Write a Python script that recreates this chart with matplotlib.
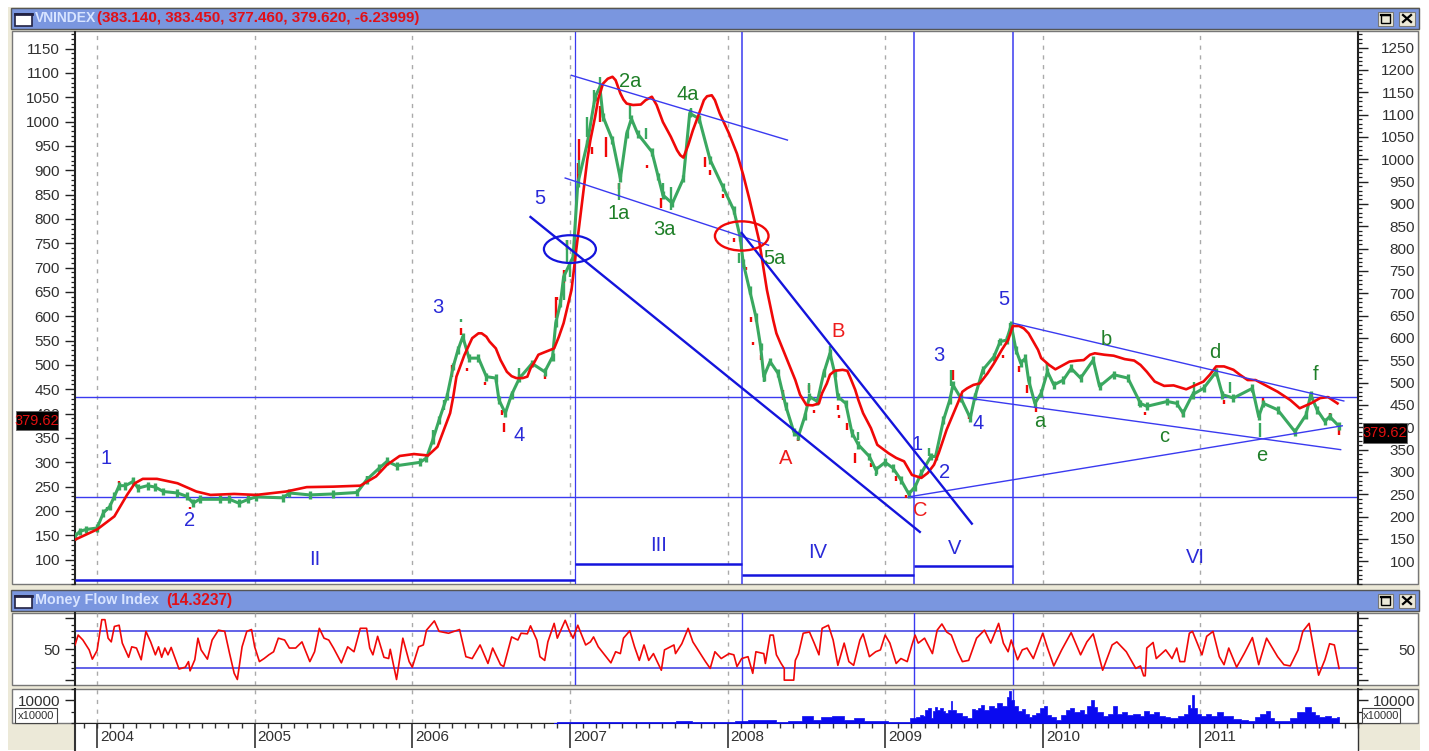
import matplotlib
matplotlib.use('Agg')
import matplotlib.pyplot as plt
from matplotlib.patches import Rectangle, Ellipse
from matplotlib.ticker import MultipleLocator, FixedLocator
from matplotlib.transforms import ScaledTranslation

plt.rcParams['font.family'] = ['Liberation Sans', 'DejaVu Sans']

# --- datos ---
years = [2004, 2005, 2006, 2007, 2008, 2009, 2010, 2011]

price_x = [2003.86, 2003.89, 2003.93, 2004.0, 2004.04, 2004.08, 2004.11, 2004.14, 2004.18, 2004.23, 2004.26, 2004.32,
           2004.37, 2004.42, 2004.51, 2004.57, 2004.61, 2004.65, 2004.78, 2004.84, 2004.9, 2004.96, 2005.01, 2005.18,
           2005.22, 2005.35, 2005.5, 2005.65, 2005.71, 2005.79, 2005.84, 2005.9, 2006.05, 2006.09, 2006.13, 2006.17,
           2006.22, 2006.26, 2006.29, 2006.32, 2006.36, 2006.42, 2006.47, 2006.53, 2006.55, 2006.59, 2006.63, 2006.68,
           2006.76, 2006.84, 2006.89, 2006.91, 2006.94, 2006.96, 2007.02, 2007.05, 2007.11, 2007.16, 2007.19, 2007.21,
           2007.27, 2007.32, 2007.36, 2007.39, 2007.43, 2007.52, 2007.56, 2007.59, 2007.65, 2007.72, 2007.76, 2007.82,
           2007.89, 2007.97, 2008.04, 2008.08, 2008.1, 2008.14, 2008.18, 2008.21, 2008.23, 2008.27, 2008.32, 2008.37,
           2008.42, 2008.45, 2008.49, 2008.52, 2008.57, 2008.61, 2008.65, 2008.68, 2008.7, 2008.75, 2008.79, 2008.83,
           2008.9, 2008.94, 2009.0, 2009.05, 2009.1, 2009.15, 2009.19, 2009.23, 2009.29, 2009.32, 2009.37, 2009.41,
           2009.43, 2009.48, 2009.54, 2009.57, 2009.62, 2009.69, 2009.73, 2009.77, 2009.8, 2009.83, 2009.86, 2009.89,
           2009.91, 2009.95, 2009.99, 2010.03, 2010.07, 2010.13, 2010.18, 2010.24, 2010.32, 2010.36, 2010.45, 2010.54,
           2010.62, 2010.66, 2010.79, 2010.85, 2010.89, 2010.95, 2011.02, 2011.1, 2011.14, 2011.21, 2011.33, 2011.37,
           2011.4, 2011.49, 2011.6, 2011.67, 2011.7, 2011.74, 2011.79, 2011.82, 2011.88]
price_y = [148, 158, 162, 165, 196, 209, 230, 252, 252, 261, 247, 252,
           249, 240, 237, 230, 216, 224, 224, 224, 216, 224, 229, 227,
           237, 233, 235, 238, 264, 288, 302, 293, 300, 309, 346, 387,
           435, 497, 531, 558, 514, 514, 476, 473, 428, 401, 439, 473,
           503, 486, 517, 586, 627, 681, 722, 873, 955, 1051, 1071, 1010,
           962, 883, 975, 1006, 975, 938, 887, 849, 832, 883, 1017, 1006,
           921, 866, 818, 763, 709, 654, 599, 538, 476, 507, 483, 415,
           363, 354, 394, 435, 425, 483, 524, 483, 435, 421, 360, 336,
           312, 285, 300, 288, 264, 235, 250, 278, 312, 312, 387, 428,
           459, 432, 391, 435, 490, 517, 548, 551, 582, 531, 504, 514,
           469, 421, 442, 486, 459, 469, 493, 473, 510, 456, 480, 473,
           421, 415, 425, 421, 401, 439, 452, 486, 439, 432, 452, 394,
           421, 408, 363, 397, 439, 408, 384, 394, 374]

ma_x = [2003.86, 2004.0, 2004.11, 2004.19, 2004.24, 2004.29, 2004.38, 2004.51, 2004.63, 2004.72, 2004.87, 2005.01,
        2005.2, 2005.33, 2005.5, 2005.67, 2005.77, 2005.84, 2005.92, 2006.01, 2006.1, 2006.16, 2006.24, 2006.26,
        2006.28, 2006.33, 2006.35, 2006.38, 2006.42, 2006.44, 2006.47, 2006.49, 2006.53, 2006.56, 2006.6, 2006.63,
        2006.66, 2006.7, 2006.73, 2006.75, 2006.77, 2006.8, 2006.83, 2006.9, 2006.93, 2006.96, 2007.01, 2007.04,
        2007.11, 2007.13, 2007.16, 2007.18, 2007.21, 2007.24, 2007.27, 2007.29, 2007.32, 2007.34, 2007.36, 2007.4,
        2007.45, 2007.48, 2007.52, 2007.55, 2007.59, 2007.64, 2007.68, 2007.7, 2007.72, 2007.75, 2007.78, 2007.82,
        2007.85, 2007.87, 2007.9, 2007.92, 2007.95, 2008.01, 2008.06, 2008.1, 2008.14, 2008.2, 2008.25, 2008.29,
        2008.31, 2008.37, 2008.4, 2008.43, 2008.46, 2008.5, 2008.54, 2008.58, 2008.6, 2008.63, 2008.65, 2008.68,
        2008.73, 2008.76, 2008.78, 2008.81, 2008.83, 2008.86, 2008.91, 2008.95, 2009.02, 2009.07, 2009.12, 2009.17,
        2009.21, 2009.23, 2009.27, 2009.31, 2009.34, 2009.39, 2009.46, 2009.49, 2009.52, 2009.56, 2009.6, 2009.65,
        2009.69, 2009.74, 2009.78, 2009.81, 2009.85, 2009.88, 2009.91, 2009.94, 2009.97, 2009.99, 2010.04, 2010.08,
        2010.13, 2010.17, 2010.22, 2010.26, 2010.3, 2010.33, 2010.39, 2010.45, 2010.52, 2010.58, 2010.62, 2010.66,
        2010.71, 2010.77, 2010.83, 2010.91, 2011.02, 2011.06, 2011.1, 2011.15, 2011.21, 2011.25, 2011.3, 2011.35,
        2011.42, 2011.49, 2011.57, 2011.63, 2011.7, 2011.76, 2011.81, 2011.87]
ma_y = [141, 162, 189, 233, 257, 266, 266, 257, 240, 233, 235, 233,
        240, 249, 250, 252, 271, 295, 313, 317, 314, 332, 401, 435,
        476, 520, 534, 555, 565, 565, 558, 548, 534, 510, 486, 477,
        473, 473, 476, 493, 503, 521, 525, 534, 558, 586, 654, 736,
        921, 962, 1010, 1047, 1078, 1088, 1092, 1085, 1058, 1045, 1037, 1034,
        1035, 1044, 1051, 1034, 999, 969, 941, 931, 926, 951, 982, 1017,
        1044, 1052, 1054, 1044, 1017, 975, 934, 890, 839, 756, 654, 592,
        565, 517, 493, 469, 439, 418, 417, 421, 442, 462, 480, 488,
        490, 488, 473, 449, 428, 401, 370, 336, 319, 309, 302, 274,
        270, 268, 278, 295, 319, 367, 421, 445, 452, 459, 462, 483,
        503, 531, 551, 580, 580, 575, 565, 548, 531, 514, 500, 491,
        500, 507, 509, 510, 521, 524, 521, 519, 512, 509, 500, 486,
        466, 457, 458, 450, 466, 480, 497, 497, 490, 480, 469, 469,
        457, 445, 428, 411, 421, 432, 434, 421]

# mechas de las velas: anio, minimo, maximo
red_x = [2006.92, 2006.96, 2006.98, 2007.05, 2007.06, 2007.14, 2007.19, 2007.23, 2007.31, 2007.49, 2007.58, 2007.86,
         2007.89, 2007.97, 2008.04, 2008.12, 2008.15, 2008.16, 2008.21, 2008.35, 2008.45, 2008.52, 2008.55, 2008.7,
         2008.71, 2008.76, 2008.81, 2008.91, 2009.07, 2009.13, 2009.43, 2009.53, 2009.75, 2009.85, 2009.9, 2009.96,
         2010.03, 2010.65, 2010.89, 2011.15, 2011.37, 2011.4, 2011.6, 2011.82, 2011.88, 2006.31, 2006.25, 2006.35,
         2006.46, 2006.57, 2006.58, 2006.84, 2006.91, 2004.59, 2004.14]
red_lo = [633, 668, 736, 873, 921, 934, 999, 928, 862, 904, 822, 907,
          890, 842, 753, 695, 589, 541, 510, 428, 343, 449, 401, 408,
          391, 367, 298, 291, 261, 226, 469, 389, 514, 486, 442, 404,
          490, 398, 394, 420, 391, 421, 356, 394, 356, 562, 476, 488,
          459, 397, 363, 471, 596, 205, 257]
red_hi = [640, 695, 756, 914, 965, 948, 1033, 969, 873, 910, 842, 927,
          900, 852, 760, 702, 599, 548, 521, 449, 350, 459, 408, 418,
          397, 380, 319, 298, 271, 233, 490, 397, 521, 497, 459, 414,
          504, 404, 401, 428, 401, 432, 363, 401, 370, 575, 500, 493,
          466, 408, 380, 480, 640, 208, 261]
green_x = [2006.98, 2007.0, 2007.06, 2007.11, 2007.15, 2007.19, 2007.31, 2007.38, 2007.48, 2007.59, 2007.64, 2007.77,
           2008.07, 2008.23, 2008.52, 2008.65, 2008.83, 2008.94, 2009.28, 2009.42, 2009.72, 2009.79, 2010.03, 2010.61,
           2010.96, 2011.19, 2011.38, 2011.7, 2006.13, 2006.2, 2006.31, 2006.68, 2006.96, 2004.06, 2004.23, 2005.71]
green_lo = [709, 681, 893, 969, 1037, 1071, 839, 1006, 965, 845, 818, 1010,
            709, 466, 442, 517, 346, 271, 312, 456, 538, 568, 486, 415,
            442, 442, 353, 428, 339, 408, 589, 476, 633, 199, 257, 261]
green_hi = [756, 709, 921, 1010, 1064, 1092, 873, 1034, 986, 873, 866, 1027,
            729, 483, 462, 538, 363, 278, 329, 490, 551, 586, 504, 435,
            466, 466, 380, 445, 367, 428, 594, 493, 668, 209, 268, 271]

mfi_x = [2003.86, 2003.88, 2003.91, 2003.95, 2003.97, 2004.0, 2004.02, 2004.03, 2004.05, 2004.07, 2004.09, 2004.11,
         2004.14, 2004.16, 2004.2, 2004.22, 2004.25, 2004.28, 2004.31, 2004.34, 2004.37, 2004.39, 2004.41, 2004.43,
         2004.45, 2004.47, 2004.52, 2004.56, 2004.58, 2004.59, 2004.62, 2004.64, 2004.66, 2004.7, 2004.73, 2004.77,
         2004.81, 2004.84, 2004.87, 2004.89, 2004.92, 2004.95, 2004.98, 2005.0, 2005.03, 2005.06, 2005.09, 2005.12,
         2005.15, 2005.19, 2005.22, 2005.26, 2005.3, 2005.32, 2005.35, 2005.38, 2005.41, 2005.44, 2005.47, 2005.5,
         2005.55, 2005.59, 2005.63, 2005.67, 2005.71, 2005.73, 2005.75, 2005.78, 2005.82, 2005.85, 2005.86, 2005.9,
         2005.94, 2005.98, 2006.0, 2006.04, 2006.07, 2006.09, 2006.14, 2006.17, 2006.23, 2006.3, 2006.34, 2006.38,
         2006.43, 2006.48, 2006.51, 2006.56, 2006.58, 2006.61, 2006.63, 2006.67, 2006.69, 2006.73, 2006.75, 2006.79,
         2006.81, 2006.84, 2006.86, 2006.9, 2006.92, 2006.97, 2007.0, 2007.02, 2007.05, 2007.07, 2007.1, 2007.13,
         2007.15, 2007.18, 2007.22, 2007.26, 2007.29, 2007.32, 2007.34, 2007.38, 2007.41, 2007.44, 2007.47, 2007.5,
         2007.53, 2007.55, 2007.58, 2007.6, 2007.66, 2007.67, 2007.71, 2007.75, 2007.78, 2007.82, 2007.86, 2007.89,
         2007.92, 2007.96, 2008.01, 2008.04, 2008.06, 2008.09, 2008.13, 2008.16, 2008.18, 2008.23, 2008.24, 2008.27,
         2008.29, 2008.31, 2008.34, 2008.36, 2008.36, 2008.42, 2008.43, 2008.45, 2008.48, 2008.52, 2008.55, 2008.58,
         2008.6, 2008.64, 2008.67, 2008.7, 2008.74, 2008.77, 2008.8, 2008.84, 2008.86, 2008.9, 2008.94, 2008.97,
         2009.0, 2009.03, 2009.07, 2009.1, 2009.14, 2009.17, 2009.19, 2009.21, 2009.25, 2009.3, 2009.33, 2009.36,
         2009.39, 2009.42, 2009.46, 2009.49, 2009.53, 2009.58, 2009.63, 2009.67, 2009.72, 2009.75, 2009.78, 2009.8,
         2009.84, 2009.87, 2009.9, 2009.94, 2010.0, 2010.03, 2010.07, 2010.12, 2010.18, 2010.24, 2010.28, 2010.32,
         2010.38, 2010.44, 2010.47, 2010.53, 2010.59, 2010.62, 2010.64, 2010.65, 2010.66, 2010.7, 2010.72, 2010.78,
         2010.82, 2010.85, 2010.87, 2010.9, 2010.93, 2010.95, 2011.01, 2011.04, 2011.08, 2011.12, 2011.15, 2011.18,
         2011.23, 2011.28, 2011.33, 2011.37, 2011.42, 2011.49, 2011.53, 2011.57, 2011.62, 2011.65, 2011.69, 2011.73,
         2011.75, 2011.79, 2011.82, 2011.85, 2011.88]
mfi_y = [57, 73, 65, 49, 34, 48, 81, 98, 98, 68, 62, 87,
         89, 60, 37, 54, 52, 33, 79, 62, 41, 54, 37, 52,
         41, 53, 18, 21, 30, 15, 33, 68, 49, 34, 65, 81,
         79, 44, 11, 1, 54, 79, 82, 54, 30, 35, 41, 46,
         68, 65, 52, 52, 62, 49, 30, 46, 84, 68, 65, 52,
         28, 54, 46, 84, 84, 52, 41, 71, 37, 35, 50, 1,
         68, 30, 21, 54, 57, 81, 96, 79, 76, 82, 38, 35,
         57, 27, 52, 25, 22, 51, 70, 65, 76, 75, 88, 65,
         38, 32, 62, 92, 68, 97, 78, 68, 89, 76, 57, 62,
         70, 54, 41, 28, 46, 43, 68, 80, 54, 32, 57, 32,
         43, 32, 16, 49, 57, 43, 59, 84, 62, 46, 30, 19,
         46, 35, 43, 41, 22, 35, 38, 11, 46, 43, 27, 73,
         73, 41, 27, 19, 0, 0, 32, 43, 76, 78, 60, 41,
         84, 89, 65, 24, 60, 30, 24, 65, 75, 38, 46, 49,
         73, 60, 27, 35, 30, 57, 73, 60, 68, 43, 81, 91,
         78, 73, 46, 30, 32, 68, 81, 60, 92, 60, 46, 65,
         33, 49, 52, 35, 76, 52, 23, 49, 77, 41, 62, 75,
         16, 57, 62, 46, 19, 23, 7, 7, 52, 61, 35, 49,
         35, 52, 30, 30, 76, 79, 41, 71, 79, 38, 25, 52,
         21, 44, 69, 25, 68, 38, 25, 23, 49, 79, 92, 35,
         8, 33, 59, 57, 19]

vol_x = [2006.9, 2006.94, 2007.0, 2007.2, 2007.4, 2007.6, 2007.75, 2007.8, 2008.0, 2008.1, 2008.16, 2008.23,
         2008.27, 2008.35, 2008.42, 2008.52, 2008.57, 2008.62, 2008.7, 2008.78, 2008.83, 2008.9, 2008.99, 2009.04,
         2009.13, 2009.18, 2009.21, 2009.23, 2009.25, 2009.26, 2009.28, 2009.3, 2009.31, 2009.32, 2009.34, 2009.36,
         2009.37, 2009.39, 2009.41, 2009.42, 2009.43, 2009.47, 2009.5, 2009.54, 2009.56, 2009.58, 2009.6, 2009.62,
         2009.64, 2009.68, 2009.7, 2009.72, 2009.76, 2009.78, 2009.79, 2009.81, 2009.83, 2009.86, 2009.88, 2009.9,
         2009.92, 2009.94, 2009.97, 2009.99, 2010.02, 2010.04, 2010.07, 2010.1, 2010.13, 2010.16, 2010.18, 2010.22,
         2010.25, 2010.27, 2010.29, 2010.32, 2010.33, 2010.36, 2010.4, 2010.43, 2010.46, 2010.48, 2010.52, 2010.55,
         2010.6, 2010.63, 2010.66, 2010.69, 2010.72, 2010.76, 2010.79, 2010.83, 2010.88, 2010.91, 2010.93, 2010.94,
         2010.95, 2010.97, 2010.99, 2011.02, 2011.05, 2011.08, 2011.13, 2011.16, 2011.19, 2011.23, 2011.28, 2011.33,
         2011.36, 2011.4, 2011.43, 2011.45, 2011.49, 2011.55, 2011.59, 2011.64, 2011.69, 2011.71, 2011.74, 2011.77,
         2011.81, 2011.85, 2011.88]
vol_y = [100, 600, 500, 500, 400, 500, 1000, 500, 500, 1000, 1500, 1200,
         1500, 300, 700, 3200, 1200, 2600, 3200, 1200, 2200, 700, 700, 300,
         300, 2200, 2600, 3700, 2900, 5900, 6600, 2200, 5100, 7100, 5900, 6600,
         5100, 4400, 5900, 9600, 5900, 4400, 3200, 2200, 6200, 5900, 6600, 8100,
         5900, 7300, 6600, 8800, 7600, 11500, 14000, 10000, 7600, 5100, 6200, 4100,
         2600, 3700, 4400, 6600, 7600, 3700, 2600, 1500, 3700, 5600, 6600, 4700,
         5600, 4100, 7300, 10000, 7100, 4700, 3200, 4100, 7600, 4100, 4700, 3700,
         4100, 3200, 5100, 4100, 4700, 2900, 2600, 2200, 2900, 4100, 8100, 6600,
         12500, 6600, 4100, 3200, 4100, 2900, 4700, 2900, 3200, 1800, 1500, 700,
         2600, 4100, 5100, 2200, 900, 900, 2200, 4700, 7100, 4700, 3700, 2600,
         3200, 2000, 2600]

# lineas dibujadas a mano sobre el grafico: (x1, x2, y1, y2)
thin_lines = [(2007.01, 2008.38, 1095, 962), (2006.97, 2008.26, 884, 746), (2009.81, 2011.91, 586, 426),
              (2009.48, 2011.89, 434, 326), (2009.15, 2011.90, 229, 375)]
thick_lines = [(2006.75, 2009.22, 804, 157), (2008.09, 2009.55, 771, 174)]
phase_lines = [(2003.86, 2007.03, 59), (2007.03, 2008.09, 92), (2008.09, 2009.18, 68), (2009.18, 2009.81, 86)]
wave_dates = [2007.03, 2008.09, 2009.18, 2009.81]
h_levels = [434, 229]

blue_labels = [('1', 2004.06, 307), ('2', 2004.59, 180), ('3', 2006.16, 619), ('4', 2006.68, 356), ('5', 2006.81, 841),
               ('1', 2009.20, 336), ('2', 2009.38, 279), ('3', 2009.34, 519), ('4', 2009.59, 379), ('5', 2009.75, 634),
               ('II', 2005.38, 100), ('III', 2007.56, 129), ('IV', 2008.57, 114), ('V', 2009.44, 123), ('VI', 2010.97, 104)]
green_labels = [('2a', 2007.38, 1083), ('4a', 2007.75, 1056), ('1a', 2007.31, 812), ('3a', 2007.60, 779),
                ('5a', 2008.30, 718), ('a', 2009.98, 383), ('b', 2010.40, 553), ('c', 2010.77, 354),
                ('d', 2011.09, 525), ('e', 2011.39, 315), ('f', 2011.73, 480)]
red_labels = [('A', 2008.37, 307), ('B', 2008.70, 568), ('C', 2009.22, 201)]

BLUE = '#3a3af0'
DARK_BLUE = '#1414dc'
GREEN = '#3aa860'
RED = '#f00808'
GREY = '#aaaaaa'
TXT = '#303030'
BEIGE = '#ece9d8'
BAR = '#7a96df'
W, H = 1429, 751


def panel(top, bottom):
    return [75 / W, 1 - bottom / H, (1358 - 75) / W, (bottom - top) / H]


def style_axis(ax, side, major, minor, pad_px):
    for s in ax.spines.values():
        s.set_visible(False)
    ax.spines[side].set_visible(True)
    ax.spines[side].set_linewidth(1.5)
    ax.spines[side].set_color('#222222')
    ax.yaxis.set_major_locator(major)
    ax.yaxis.set_minor_locator(MultipleLocator(minor))
    ax.tick_params(axis='y', which='major', length=7.2, width=1, color='#222222',
                   labelsize=11, labelcolor=TXT, pad=pad_px * 0.72)
    ax.tick_params(axis='y', which='minor', length=2.6, width=0.9, color='#222222')
    ax.tick_params(axis='x', which='both', bottom=False, labelbottom=False)
    if side == 'right':
        for t in ax.get_yticklabels():
            t.set_ha('right')


fig = plt.figure(figsize=(W / 100, H / 100), dpi=100, facecolor='white')

# marco de la ventana, en pixeles
chrome = fig.add_axes([0, 0, 1, 1], zorder=0)
chrome.set_xlim(0, W)
chrome.set_ylim(H, 0)
chrome.axis('off')
chrome.add_patch(Rectangle((8, 7), 1412, 743, fc=BEIGE, ec='none'))
chrome.add_patch(Rectangle((11, 8), 1408, 21, fc=BAR, ec='#555555', lw=1))
chrome.add_patch(Rectangle((11, 590), 1408, 21, fc=BAR, ec='#555555', lw=1))
chrome.add_patch(Rectangle((12, 31), 1406, 553, fc='white', ec='#777777', lw=1))
chrome.add_patch(Rectangle((12, 613), 1406, 72, fc='white', ec='#777777', lw=1))
chrome.add_patch(Rectangle((12, 689), 1406, 34, fc='white', ec='#777777', lw=1))
chrome.add_patch(Rectangle((75, 723), 1283, 27, fc='white', ec='none'))
for ty in (19, 601):
    chrome.add_patch(Rectangle((15, ty - 5), 17, 12, fc='white', ec='#222244', lw=1.2))
    chrome.plot([15, 32], [ty - 5, ty - 5], color='#222244', lw=2)
    chrome.add_patch(Rectangle((1378, ty - 7), 15, 14, fc=BEIGE, ec='#777777', lw=0.8))
    chrome.add_patch(Rectangle((1381, ty - 4), 9, 8, fc='none', ec='black', lw=1))
    chrome.plot([1381, 1390], [ty - 4, ty - 4], color='black', lw=1.6)
    chrome.add_patch(Rectangle((1399, ty - 7), 16, 14, fc=BEIGE, ec='#777777', lw=0.8))
    chrome.plot([1403, 1411], [ty - 4, ty + 3], color='black', lw=1.6)
    chrome.plot([1411, 1403], [ty - 4, ty + 3], color='black', lw=1.6)
chrome.text(35, 18, 'VNINDEX', color='#d8e4ff', fontsize=10, fontweight='bold', va='center')
chrome.text(97, 18, '(383.140, 383.450, 377.460, 379.620, -6.23999)', color='#e01018', fontsize=10.9,
            fontweight='bold', va='center')
chrome.text(35, 600, 'Money Flow Index', color='#d8e4ff', fontsize=10.4, fontweight='bold', va='center')
chrome.text(166, 600, '(14.3237)', color='#e01018', fontsize=11.2, fontweight='bold', va='center')

# panel principal
ax = fig.add_axes(panel(32, 584), zorder=1)
ax.patch.set_alpha(0)
ax.set_xlim(2003.86, 2012.0)
ax.set_ylim(50, 1184)
style_axis(ax, 'left', MultipleLocator(50), 10, 5)
ax.set_yticks([v for v in range(100, 1151, 50)])
for y in years:
    ax.axvline(y, color=GREY, lw=1, ls=(0, (3, 4)), zorder=1)
ax.axvline(wave_dates[0], color=BLUE, lw=0.9, zorder=2)
for d in wave_dates[1:]:
    ax.axvline(d, color=BLUE, lw=1.1, zorder=2)
for lev in h_levels:
    ax.axhline(lev, color=BLUE, lw=1, zorder=2)
ax.vlines(red_x, red_lo, red_hi, color=RED, lw=1.7, zorder=3)
ax.vlines(green_x, green_lo, green_hi, color=GREEN, lw=1.7, zorder=3)
# cuerpo de cada vela alrededor del cierre
ax.vlines(price_x, [p - 8 for p in price_y], [p + 8 for p in price_y], color=GREEN, lw=2.4, zorder=4)
ax.plot(price_x, price_y, color=GREEN, lw=2.2, zorder=4)
ax.plot(ma_x, ma_y, color=RED, lw=1.9, zorder=5)
for x1, x2, y1, y2 in thin_lines:
    ax.plot([x1, x2], [y1, y2], color=BLUE, lw=1, zorder=6)
for x1, x2, y1, y2 in thick_lines:
    ax.plot([x1, x2], [y1, y2], color=DARK_BLUE, lw=1.7, zorder=6)
for x1, x2, y in phase_lines:
    ax.plot([x1, x2], [y, y], color=DARK_BLUE, lw=1.8, zorder=6, solid_capstyle='butt')
ax.add_patch(Ellipse((2007.0, 738), 0.33, 57, fc='none', ec=DARK_BLUE, lw=1.6, zorder=7))
ax.add_patch(Ellipse((2008.09, 765), 0.34, 60, fc='none', ec=RED, lw=1.7, zorder=7))
for labels, col in ((blue_labels, '#2a2ad8'), (green_labels, '#1f7f28'), (red_labels, '#ee1c1c')):
    for txt, x, y in labels:
        ax.text(x, y, txt, color=col, fontsize=14.5, ha='center', va='center', zorder=8)

axr = ax.twinx()
axr.set_ylim(49, 1285)
style_axis(axr, 'right', MultipleLocator(50), 10, 47)
axr.set_yticks([v for v in range(100, 1251, 50)])
for t in axr.get_yticklabels():
    t.set_ha('right')

# cajas con el ultimo precio
for x0, x1 in ((16, 58), (1363, 1407)):
    y0, y1 = (411, 430) if x0 == 16 else (423, 443)
    box = Rectangle((x0 / W, 1 - y1 / H), (x1 - x0) / W, (y1 - y0) / H, transform=fig.transFigure,
                    fc='black', ec='#666666', lw=0.6, zorder=20)
    fig.add_artist(box)
    fig.text((x0 + x1) / 2 / W, 1 - (y0 + y1) / 2 / H, '379.62', color='#e01010', fontsize=10.5,
             ha='center', va='center', zorder=21)

# panel MFI
ax2 = fig.add_axes(panel(613, 685), zorder=1)
ax2.patch.set_alpha(0)
ax2.set_xlim(2003.86, 2012.0)
ax2.set_ylim(-7.9, 108.8)
style_axis(ax2, 'left', FixedLocator([0, 50, 100]), 10, 5)
ax2.set_yticklabels(['', '50', ''])
for y in years:
    ax2.axvline(y, color=GREY, lw=1, ls=(0, (3, 4)), zorder=1)
for d in wave_dates:
    ax2.axvline(d, color=BLUE, lw=1, zorder=2)
ax2.axhline(80, color=DARK_BLUE, lw=1.1, zorder=2, alpha=0.85)
ax2.axhline(20, color=DARK_BLUE, lw=1.1, zorder=2, alpha=0.85)
ax2.plot(mfi_x, mfi_y, color=RED, lw=1.2, zorder=3)
ax2r = ax2.twinx()
ax2r.set_ylim(-7.9, 108.8)
style_axis(ax2r, 'right', FixedLocator([0, 50, 100]), 10, 47)
ax2r.set_yticklabels(['', '50', ''], ha='right')

# panel de volumen
ax3 = fig.add_axes(panel(689, 723), zorder=1)
ax3.patch.set_alpha(0)
ax3.set_xlim(2003.86, 2012.0)
ax3.set_ylim(0, 15000)
style_axis(ax3, 'left', FixedLocator([10000]), 5000, 5)
for y in years:
    ax3.axvline(y, color=GREY, lw=1, ls=(0, (3, 4)), zorder=1)
for d in wave_dates[1:]:
    ax3.axvline(d, color=BLUE, lw=1, zorder=2)
ax3.fill_between(vol_x, vol_y, 0, color='#0a0af0', lw=0.5, step='mid', zorder=3)
ax3.spines['bottom'].set_visible(True)
ax3.spines['bottom'].set_color('#222222')
ax3.set_xticks(years)
ax3.set_xticks([2003.9167, 2003.9999] + [y + m / 12 for y in range(2004, 2012) for m in range(1, 13)], minor=True)
ax3.tick_params(axis='x', which='major', bottom=True, labelbottom=True, length=18, width=1.2, color='#333333',
                labelsize=11, labelcolor=TXT, pad=-13)
ax3.tick_params(axis='x', which='minor', bottom=True, length=3.6, width=1, color='#333333')
ax3.set_xticklabels([str(y) for y in years], ha='left')
for t in ax3.get_xticklabels():
    t.set_transform(t.get_transform() + ScaledTranslation(3 / 100, 0, fig.dpi_scale_trans))
ax3r = ax3.twinx()
ax3r.set_ylim(0, 15000)
style_axis(ax3r, 'right', FixedLocator([10000]), 5000, 47)
for t in ax3r.get_yticklabels():
    t.set_ha('right')
chrome.plot([75, 75], [723, 750], color='#333333', lw=1.5)
chrome.plot([1358, 1358], [723, 750], color='#333333', lw=1)

# cajitas x10000
for x0, x1 in ((15, 57), (1362, 1400)):
    fig.add_artist(Rectangle((x0 / W, 1 - 723 / H), (x1 - x0) / W, 15 / H, transform=fig.transFigure,
                             fc='white', ec='#444444', lw=0.8, zorder=20))
    fig.text((x0 + x1) / 2 / W, 1 - 716 / H, 'x10000', color=TXT, fontsize=8, ha='center', va='center', zorder=21)

fig.savefig('out.png', dpi=100)
